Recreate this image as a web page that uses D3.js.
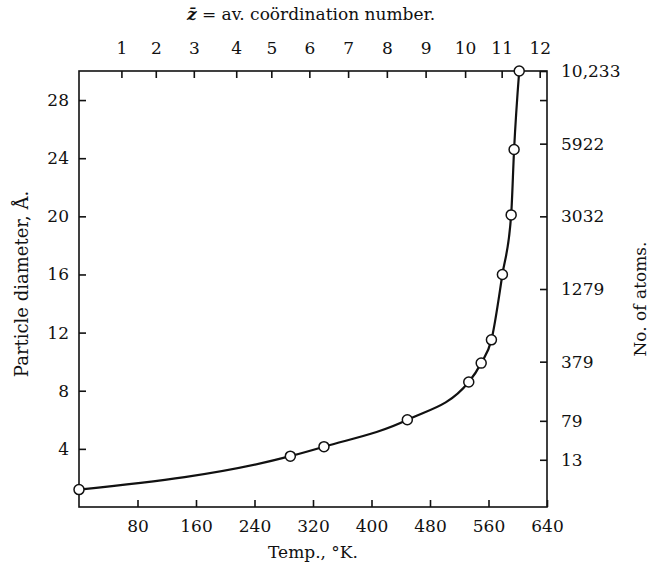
<!DOCTYPE html>
<html>
<head>
<meta charset="utf-8">
<script src="https://cdn.jsdelivr.net/npm/d3@7"></script>
<style>
  html, body { margin: 0; padding: 0; background: #fff; }
  svg { display: block; }
  text { font-family: "DejaVu Serif", "Liberation Serif", serif; fill: #111; }
</style>
</head>
<body>
<svg id="chart" width="657" height="564"></svg>
<script>
// ---- data ----
const temps     = [0, 289, 335, 449, 533, 550, 564, 579, 591, 595, 602];   // Temp., °K
const diameters = [1.2, 3.5, 4.15, 6.0, 8.6, 9.9, 11.5, 16.0, 20.1, 24.6, 30.0]; // Å
const bottomTicks = [80, 160, 240, 320, 400, 480, 560, 640];
const leftTicks   = [4, 8, 12, 16, 20, 24, 28];
const zLabels     = ["1","2","3","4","5","6","7","8","9","10","11","12"];
const zTemps      = [58, 105, 157, 215, 263, 315, 368, 421, 474, 528, 578, 630]; // temperature under each z label
const atomTicks   = [13, 79, 379, 1279, 3032, 5922, 10233];
const atomMinor   = [8320];

const svg = d3.select("#chart");
const m = {left: 79, right: 547, top: 71, bottom: 507};
const FONT = '"DejaVu Serif", "Liberation Serif", serif';

const x = d3.scaleLinear().domain([0, 640]).range([m.left, m.right]);
const y = d3.scaleLinear().domain([0, 30]).range([m.bottom, m.top]);
const atoms = d3.scalePow().exponent(1/3).domain([0, 10233]).range([m.bottom, m.top]);

const ink = "#111";
const fs = 17;

// frame
svg.append("rect")
  .attr("x", m.left).attr("y", m.top)
  .attr("width", m.right - m.left).attr("height", m.bottom - m.top)
  .attr("fill", "none").attr("stroke", ink).attr("stroke-width", 1.6);

function styleAxis(g) {
  g.attr("font-family", FONT);
  g.select(".domain").remove();
  g.selectAll(".tick line").attr("stroke", ink).attr("stroke-width", 1.6);
  g.selectAll(".tick text").attr("font-size", fs).attr("fill", ink)
    .style("font-family", FONT);
}

// bottom axis (ticks pointing inward)
svg.append("g").attr("transform", `translate(0,${m.bottom})`)
  .call(d3.axisBottom(x).tickValues(bottomTicks).tickFormat(d3.format("d")).tickSize(-7).tickPadding(13))
  .call(styleAxis);

// left axis
svg.append("g").attr("transform", `translate(${m.left},0)`)
  .call(d3.axisLeft(y).tickValues(leftTicks).tickSize(-7).tickPadding(10))
  .call(styleAxis);

// top axis: coordination number
svg.append("g").attr("transform", `translate(0,${m.top})`)
  .call(d3.axisTop(x).tickValues(zTemps).tickFormat((d, i) => zLabels[i]).tickSize(-7).tickPadding(17))
  .call(styleAxis);

// right axis: number of atoms
svg.append("g").attr("transform", `translate(${m.right},0)`)
  .call(d3.axisRight(atoms).tickValues(atomTicks).tickFormat(d => d === 10233 ? "10,233" : String(d)).tickSize(-7).tickPadding(14))
  .call(styleAxis);
svg.append("g").attr("transform", `translate(${m.right},0)`)
  .call(d3.axisRight(atoms).tickValues(atomMinor).tickFormat("").tickSize(-7))
  .call(styleAxis);

// curve
const pts = temps.map((t, i) => [t, diameters[i]]);
const line = d3.line().x(d => x(d[0])).y(d => y(d[1])).curve(d3.curveMonotoneX);
svg.append("path").datum(pts).attr("d", line)
  .attr("fill", "none").attr("stroke", ink).attr("stroke-width", 2.2);

svg.append("g").selectAll("circle").data(pts).join("circle")
  .attr("cx", d => x(d[0])).attr("cy", d => y(d[1])).attr("r", 5)
  .attr("fill", "#fff").attr("stroke", ink).attr("stroke-width", 1.5);

// titles
const title = svg.append("text").attr("x", 311).attr("y", 20)
  .attr("text-anchor", "middle").attr("font-size", fs).style("font-family", FONT);
title.append("tspan").attr("font-weight", "bold").attr("font-style", "italic").text("z\u0304");
title.append("tspan").text(" = av. coördination number.");

svg.append("text").attr("x", 313).attr("y", 558).attr("text-anchor", "middle")
  .attr("font-size", fs).style("font-family", FONT).text("Temp., °K.");

svg.append("text").attr("transform", `translate(28,284) rotate(-90)`)
  .attr("text-anchor", "middle").attr("font-size", 18).style("font-family", FONT).text("Particle diameter, Å.");

svg.append("text").attr("transform", `translate(646,${(m.top + m.bottom) / 2 + 10}) rotate(-90)`)
  .attr("text-anchor", "middle").attr("font-size", fs).style("font-family", FONT).text("No. of atoms.");
</script>
</body>
</html>
